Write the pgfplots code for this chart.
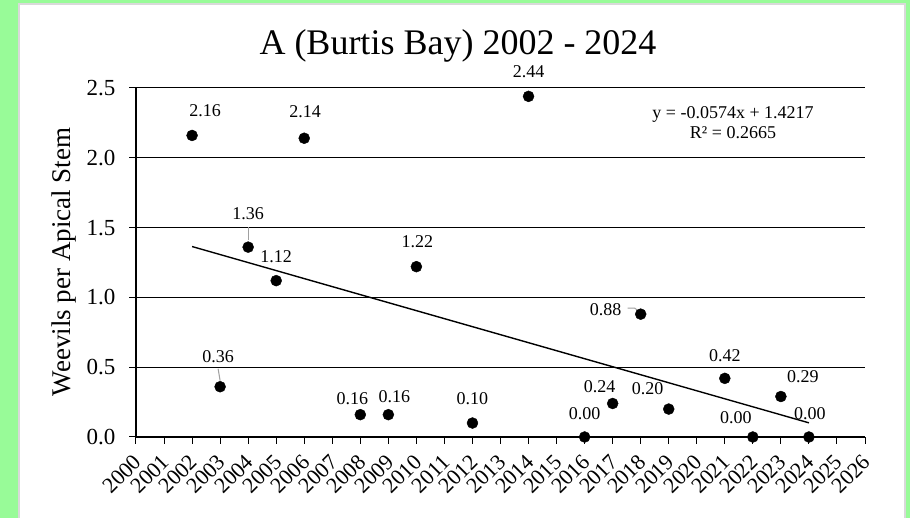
\documentclass[border=0pt]{standalone}
\usepackage{fontspec}
\setmainfont{Liberation Serif}
\usepackage{pgfplots}
\usepackage{pgfplotstable}
\pgfplotsset{compat=1.18}
\definecolor{bggreen}{RGB}{152,251,152}
\definecolor{panelborder}{RGB}{217,217,217}
\definecolor{leader}{RGB}{160,160,160}
\pgfplotstableread{
year val dx dy lab
2002 2.16 13 25 2.16
2003 0.36 -2 30 0.36
2004 1.36 0 33 1.36
2005 1.12 0 24 1.12
2006 2.14 1 27 2.14
2008 0.16 -8 16 0.16
2009 0.16 6 18 0.16
2010 1.22 1 25 1.22
2012 0.10 0 24 0.10
2014 2.44 0 25 2.44
2016 0.00 0 23 0.00
2017 0.24 -13 17 0.24
2018 0.88 -35 5 0.88
2019 0.20 -21 20 0.20
2021 0.42 0 23 0.42
2022 0.00 -17 19 0.00
2023 0.29 22 20 0.29
2024 0.00 1 23 0.00
}\data
\begin{document}
\begin{tikzpicture}[x=1bp,y=1bp]
\path[use as bounding box] (-136,-81) rectangle (774,437);
\fill[bggreen] (-136,-81) rectangle (774,437);
\filldraw[fill=white, draw=panelborder, line width=1.5bp] (-117,-95) rectangle (769,433);
\begin{axis}[
  at={(0,0)}, anchor=south west,
  scale only axis, width=729bp, height=349bp,
  xmin=2000, xmax=2026, ymin=0, ymax=2.5,
  axis x line*=bottom, axis y line*=left,
  xtick={2000,2001,...,2026},
  ytick={0,0.5,1,1.5,2,2.5},
  ymajorgrids,
  major grid style={black, line width=1bp},
  tick align=outside, major tick length=7bp,
  tick style={black, line width=1bp},
  axis line style={black, line width=1.5bp},
  /pgf/number format/assume math mode=true,
  x tick label style={xshift=4bp, yshift=-12bp, rotate=45, anchor=east, font=\fontsize{22bp}{22bp}\selectfont, /pgf/number format/1000 sep={}},
  y tick label style={xshift=-10bp, font=\fontsize{23bp}{23bp}\selectfont, /pgf/number format/.cd, fixed, fixed zerofill, precision=1},
  clip=false,
]
\addplot[only marks, mark=*, mark size=5.5bp, black,
  point meta=explicit symbolic,
  visualization depends on={\thisrow{dx} \as \ldx},
  visualization depends on={\thisrow{dy} \as \ldy},
  nodes near coords,
  every node near coord/.append style={anchor=center, xshift=\ldx bp, yshift=\ldy bp, font=\fontsize{18bp}{18bp}\selectfont, black}
] table[x=year, y=val, meta=lab] {\data};
\addplot[black, line width=1.4bp, no marks] coordinates {(2002,1.3643) (2024,0.1015)};
\draw[leader, line width=1bp] ([yshift=6bp]axis cs:2003,0.36) -- ([xshift=-2bp, yshift=18bp]axis cs:2003,0.36);
\draw[leader, line width=1bp] ([yshift=7bp]axis cs:2004,1.36) -- ([yshift=20bp]axis cs:2004,1.36);
\draw[leader, line width=1bp] ([xshift=-13bp, yshift=6bp]axis cs:2018,0.88) -- ([xshift=-6bp, yshift=6bp]axis cs:2018,0.88) -- ([xshift=-2bp, yshift=3bp]axis cs:2018,0.88);
\end{axis}
\node[font=\fontsize{36bp}{36bp}\selectfont, anchor=center] at (322,391) {A (Burtis Bay) 2002 - 2024};
\node[font=\fontsize{27bp}{27bp}\selectfont, rotate=90, anchor=center] at (-72,175) {Weevils per Apical Stem};
\node[font=\fontsize{18bp}{20bp}\selectfont, align=center, anchor=center] at (597,314) {y = -0.0574x + 1.4217\\R² = 0.2665};
\end{tikzpicture}
\end{document}
